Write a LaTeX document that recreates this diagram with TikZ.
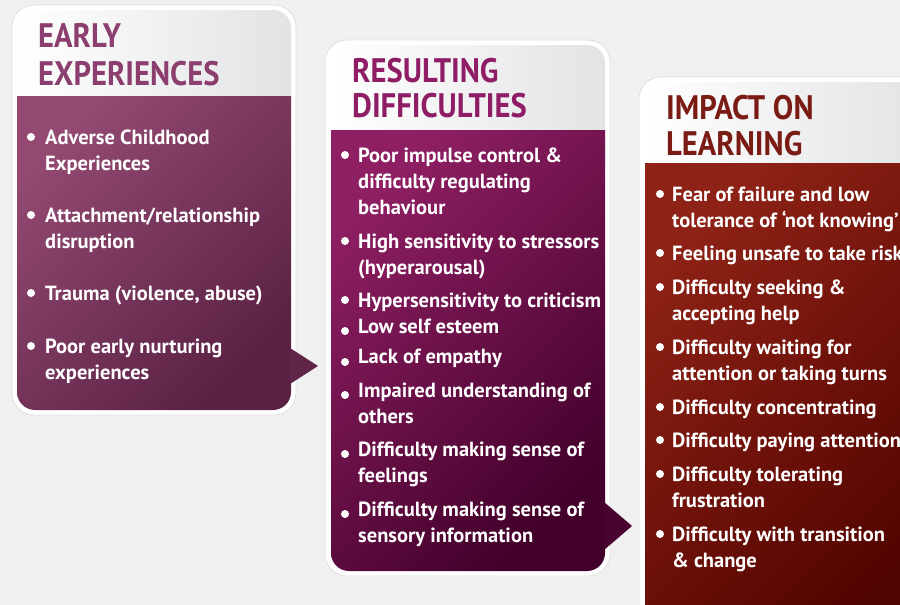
\documentclass[tikz,border=0pt]{standalone}
\usepackage{fontspec}
\setmainfont{PT Sans}
\newfontfamily\headfont{PT Sans}[FakeStretch=0.9]
\newfontfamily\itemfont{PT Sans}
\usetikzlibrary{positioning,calc}

\definecolor{bggray}{HTML}{F0F0F0}
\definecolor{headgray}{HTML}{E2E3E5}
\definecolor{earlytext}{HTML}{8C3F6E}
\definecolor{earlylight}{HTML}{934972}
\definecolor{earlydark}{HTML}{5A2144}
\definecolor{resulttext}{HTML}{8F1D66}
\definecolor{resultlight}{HTML}{8E1F63}
\definecolor{resultdark}{HTML}{42002A}
\definecolor{impacttext}{HTML}{7A1B14}
\definecolor{impactlight}{HTML}{8E2216}
\definecolor{impactdark}{HTML}{520400}

\begin{document}
\begin{tikzpicture}[x=1pt, y=-1pt,
    frame/.style={draw=black!12, fill=white, line width=0.8pt, rounded corners=22},
    head/.style={left color=white, right color=headgray},
    title/.style={anchor=base west, inner sep=0, font=\headfont\bfseries\fontsize{34}{38}\selectfont},
    item/.style={anchor=base west, inner sep=0, align=left, text=white, font=\itemfont\bfseries\fontsize{20.5}{26}\selectfont},
    dot/.style={circle, fill=white, inner sep=0, minimum size=8},
]

\path[use as bounding box] (0,0) rectangle (900,605);
\clip (0,0) rectangle (900,605);
\fill[bggray] (0,0) rectangle (900,605);

% Early experiences
\draw[frame] (12,5) rectangle (296,415);
\begin{scope}
  \clip[rounded corners=18] (17,10) rectangle (291,410);
  \shade[head] (17,10) rectangle (291,96);
  \shade[top color=earlylight, bottom color=earlydark, shading angle=45] (17,96) rectangle (291,410);
\end{scope}
\fill[earlydark!90!earlylight] (290,348) -- (318,366) -- (290,384) -- cycle;

\node[title, text=earlytext] (earlyA) at (38,47) {EARLY};
\node[title, text=earlytext] (earlyB) at (38,85) {EXPERIENCES};

% items: y is the baseline of the last line
\node[item] (e1) at (45,170) {Adverse Childhood\\Experiences};
\node[item] (e2) at (45,248) {Attachment/relationship\\disruption};
\node[item] (e3) at (45,300) {Trauma (violence, abuse)};
\node[item] (e4) at (45,379) {Poor early nurturing\\experiences};
\node[dot] (d1) at (31,137) {};
\node[dot] (d2) at (31,215) {};
\node[dot] (d3) at (31,293) {};
\node[dot] (d4) at (31,346) {};

% Resulting difficulties
\draw[frame] (325,40) rectangle (610,576);
\begin{scope}
  \clip[rounded corners=18] (331,45) rectangle (605,571);
  \shade[head] (331,45) rectangle (605,130);
  \shade[top color=resultlight, bottom color=resultdark, shading angle=45] (331,130) rectangle (605,571);
\end{scope}
\fill[resultdark!92!resultlight] (604,502) -- (632,526) -- (604,550) -- cycle;

\node[title, text=resulttext] (resultA) at (352,82) {RESULTING};
\node[title, text=resulttext] (resultB) at (352,117) {DIFFICULTIES};

\node[item] (r1) at (358,214) {Poor impulse control \&\\difficulty regulating\\behaviour};
\node[item] (r2) at (358,274) {High sensitivity to stressors\\(hyperarousal)};
\node[item] (r3) at (358,307) {Hypersensitivity to criticism};
\node[item] (r4) at (358,333) {Low self esteem};
\node[item] (r5) at (358,363) {Lack of empathy};
\node[item] (r6) at (358,423) {Impaired understanding of\\others};
\node[item] (r7) at (358,482) {Difficulty making sense of\\feelings};
\node[item] (r8) at (358,542) {Difficulty making sense of\\sensory information};
\node[dot] (s1) at (345,155) {};
\node[dot] (s2) at (345,241) {};
\node[dot] (s3) at (345,300) {};
\node[dot] (s4) at (345,331) {};
\node[dot] (s5) at (345,362) {};
\node[dot] (s6) at (345,395) {};
\node[dot] (s7) at (345,454) {};
\node[dot] (s8) at (345,514) {};

% Impact on learning
\draw[frame] (639,77) rectangle (930,650);
\begin{scope}
  \clip[rounded corners=18] (645,82) rectangle (925,645);
  \shade[head] (645,82) rectangle (925,163);
  \shade[top color=impactlight, bottom color=impactdark, shading angle=45] (645,163) rectangle (925,645);
\end{scope}

\node[title, text=impacttext] (impactA) at (666,119) {IMPACT ON};
\node[title, text=impacttext] (impactB) at (666,155) {LEARNING};

\node[item] (i1) at (672,227) {Fear of failure and low\\tolerance of ‘not knowing’};
\node[item] (i2) at (672,260) {Feeling unsafe to take risks};
\node[item] (i3) at (672,320) {Difficulty seeking \&\\accepting help};
\node[item] (i4) at (672,380) {Difficulty waiting for\\attention or taking turns};
\node[item] (i5) at (672,414) {Difficulty concentrating};
\node[item] (i6) at (672,447) {Difficulty paying attention};
\node[item] (i7) at (672,507) {Difficulty tolerating\\frustration};
\node[item] (i8) at (672,567) {Difficulty with transition\\\& change};
\node[dot] (t1) at (660,194) {};
\node[dot] (t2) at (660,253) {};
\node[dot] (t3) at (660,287) {};
\node[dot] (t4) at (660,347) {};
\node[dot] (t5) at (660,407) {};
\node[dot] (t6) at (660,440) {};
\node[dot] (t7) at (660,474) {};
\node[dot] (t8) at (660,534) {};

\end{tikzpicture}
\end{document}
